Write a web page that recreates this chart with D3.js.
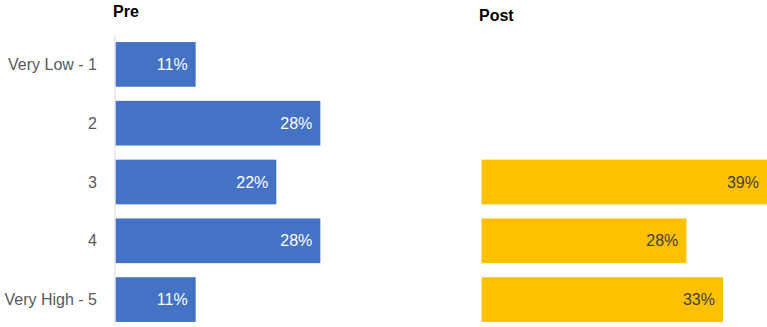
<!DOCTYPE html>
<html>
<head>
<meta charset="utf-8">
<script src="https://cdn.jsdelivr.net/npm/d3@7"></script>
<style>
  html, body { margin: 0; padding: 0; background: #fff; }
  svg { display: block; font-family: Arial, "Liberation Sans", sans-serif; }
</style>
</head>
<body>
<svg id="chart" width="767" height="327"></svg>
<script>
// Rating categories, top to bottom
const categories = ["Very Low - 1", "2", "3", "4", "Very High - 5"];
// Share of respondents (%) per rating
const preValues  = [11, 28, 22, 28, 11];
const postValues = [null, null, 39, 28, 33];
const panelTitles = ["Pre", "Post"];

const W = 767, H = 327;
const svg = d3.select("#chart");

const y = d3.scaleBand()
  .domain(categories)
  .range([35, 329])
  .paddingInner(0.24)
  .paddingOuter(0.12);

// Shared value scale so both panels are comparable
const x = d3.scaleLinear().domain([0, 39]).range([0, 286]);

const panels = [
  { title: panelTitles[0], values: preValues,  left: 115, fill: "#4472C4", text: "#ffffff", titleY: 17, axis: true },
  { title: panelTitles[1], values: postValues, left: 481, fill: "#FFC000", text: "#404040", titleY: 21, axis: false }
];

// Category labels
svg.append("g")
  .selectAll("text")
  .data(categories)
  .join("text")
  .attr("x", 97)
  .attr("y", d => y(d) + y.bandwidth() / 2)
  .attr("text-anchor", "end")
  .attr("dominant-baseline", "central")
  .attr("font-size", 16)
  .attr("fill", "#595959")
  .text(d => d);

panels.forEach(p => {
  const g = svg.append("g").attr("transform", `translate(${p.left},0)`);

  g.append("text")
    .attr("x", -2)
    .attr("y", p.titleY)
    .attr("font-size", 16)
    .attr("font-weight", "bold")
    .attr("fill", "#000")
    .text(p.title);

  const rows = categories.map((c, i) => ({ cat: c, v: p.values[i] }))
    .filter(d => d.v != null);

  g.selectAll("rect")
    .data(rows)
    .join("rect")
    .attr("x", 0.5)
    .attr("y", d => y(d.cat))
    .attr("width", d => x(d.v) - 0.5)
    .attr("height", y.bandwidth())
    .attr("fill", p.fill);

  g.selectAll("text.val")
    .data(rows)
    .join("text")
    .attr("class", "val")
    .attr("x", d => x(d.v) - 8)
    .attr("y", d => y(d.cat) + y.bandwidth() / 2)
    .attr("text-anchor", "end")
    .attr("dominant-baseline", "central")
    .attr("font-size", 16)
    .attr("fill", p.text)
    .text(d => d.v + "%");

  if (p.axis) {
    g.append("line")
      .attr("x1", 0).attr("x2", 0)
      .attr("y1", y.range()[0]).attr("y2", H)
      .attr("stroke", "#d9d9d9")
      .attr("stroke-width", 1);
  }
});
</script>
</body>
</html>
